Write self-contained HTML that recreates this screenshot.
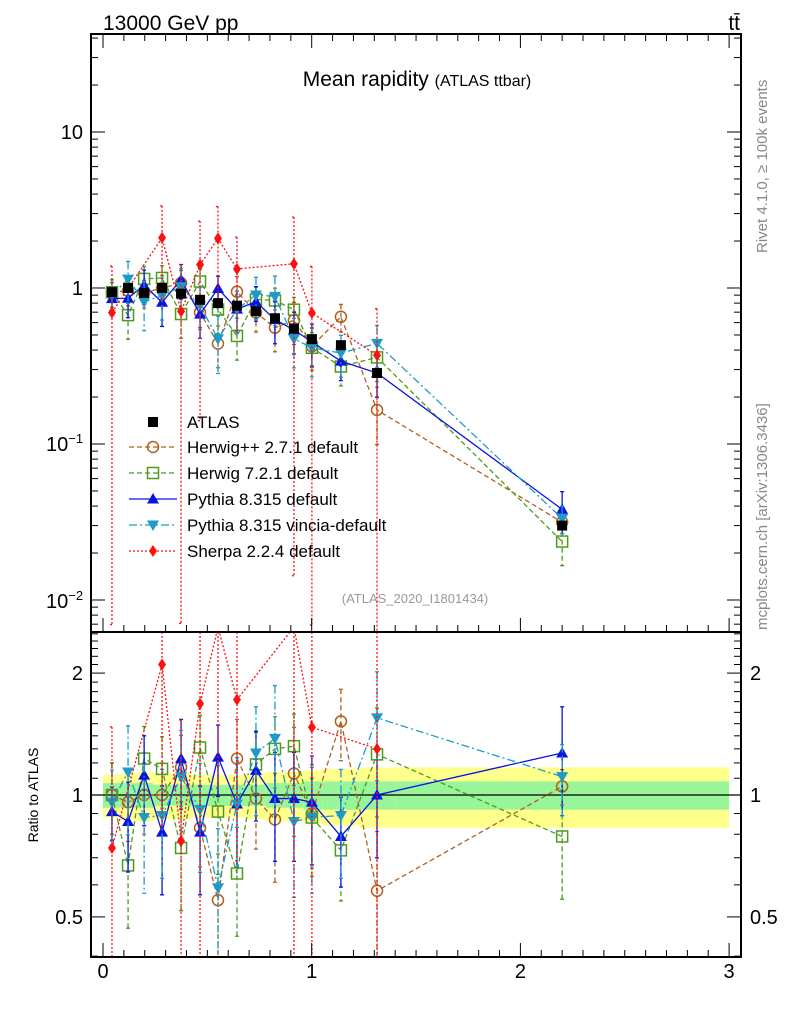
<!DOCTYPE html>
<html><head><meta charset="utf-8"><style>
html,body{margin:0;background:#fff;width:786px;height:1024px;overflow:hidden}
svg{display:block;font-family:"Liberation Sans",sans-serif;overflow:hidden}
</style></head><body>
<svg id="c" width="786" height="1024" xmlns="http://www.w3.org/2000/svg">
<text x="103" y="30" font-size="21">13000 GeV pp</text>
<text x="740" y="30" font-size="21" text-anchor="end">tt̄</text>
<text x="417" y="86" font-size="21" text-anchor="middle">Mean rapidity <tspan font-size="16">(ATLAS ttbar)</tspan></text>
<text transform="translate(767,253) rotate(-90)" font-size="15" fill="#888">Rivet 4.1.0, ≥ 100k events</text>
<text transform="translate(767,630) rotate(-90)" font-size="15" fill="#888">mcplots.cern.ch [arXiv:1306.3436]</text>
<text x="415" y="603" font-size="13" fill="#999" text-anchor="middle">(ATLAS_2020_I1801434)</text>
<text transform="translate(38,795) rotate(-90)" font-size="14" text-anchor="middle">Ratio to ATLAS</text>
<g id="bands"></g><g id="marks"></g><g id="axes"></g><g id="legend"></g>
</svg>
<script>
const xs=[0.043,0.12,0.197,0.283,0.374,0.465,0.551,0.642,0.733,0.824,0.915,1.001,1.14,1.313,2.2];
const atlas=[0.94,1.0,0.93,1.0,0.92,0.84,0.8,0.77,0.71,0.64,0.55,0.47,0.43,0.285,0.030];
const atlasStat=[0.07,0.07,0.07,0.06,0.06,0.06,0.06,0.06,0.06,0.07,0.07,0.08,0.08,0.08,0.08];
const atlasTot=[0.12,0.13,0.14,0.13,0.13,0.12,0.12,0.12,0.13,0.14,0.14,0.15,0.16,0.17,0.17];
const binEdges=[0,0.08,0.16,0.24,0.33,0.42,0.51,0.6,0.69,0.78,0.87,0.96,1.05,1.23,1.4,3.0];
const rHpp=[1.0,0.96,1.0,1.0,1.17,0.83,0.55,1.23,0.98,0.87,1.13,0.9,1.52,0.58,1.05];
const rH7=[1.0,0.67,1.23,1.16,0.74,1.31,0.91,0.64,1.19,1.30,1.32,0.88,0.73,1.26,0.79];
const rPy=[0.91,0.86,1.12,0.81,1.23,0.81,1.24,0.95,1.15,0.98,0.98,0.96,0.79,1.0,1.27];
const rVin=[0.96,1.14,0.88,0.89,1.11,0.92,0.59,0.95,1.27,1.38,0.86,0.88,0.89,1.55,1.11];
const rSh=[0.74,null,null,2.1,0.77,1.68,2.6,1.72,null,null,2.6,1.47,null,1.3,null];
const eHpp=[0.2,0.2,0.2,0.2,0.2,0.2,0.3,0.25,0.25,0.3,0.3,0.3,0.2,0.4,0.1];
const eH7=[0.2,0.3,0.2,0.2,0.3,0.2,0.3,0.3,0.2,0.2,0.2,0.25,0.25,0.3,0.3];
const ePy=[0.15,0.25,0.25,0.3,0.25,0.3,0.2,0.3,0.25,0.3,0.3,0.3,0.25,0.3,0.3];
const eVin=[0.2,0.3,0.35,0.3,0.3,0.3,0.4,0.3,0.3,0.35,0.35,0.35,0.3,0.3,0.2];
const eSh=[0.99,0,0,0.6,0.99,0.9,0.6,0.6,0,0,0.99,0.99,0,0.99,0];
const NS="http://www.w3.org/2000/svg";
const L=91,R=741,T=34,MB=632,RB=957;
const X=v=>103+208.7*v;
const Y=v=>288-156*Math.log10(v);
const YR=v=>795-405*Math.log10(v);
function el(tag,attrs,parent){const e=document.createElementNS(NS,tag);for(const k in attrs)e.setAttribute(k,attrs[k]);document.getElementById(parent).appendChild(e);return e;}
for(let i=0;i<binEdges.length-1;i++){
 const a=X(binEdges[i]),b=X(binEdges[i+1]);
 const y1=el('rect',{x:a,y:YR(1+atlasTot[i]),width:b-a,height:YR(1-atlasTot[i])-YR(1+atlasTot[i]),fill:'#ffff8c'},'bands');
 
 
 const y2=el('rect',{x:a,y:YR(1+atlasStat[i]),width:b-a,height:YR(1-atlasStat[i])-YR(1+atlasStat[i]),fill:'#99f599'},'bands');
 
 
}
const rl=el('line',{x1:L,x2:R,y1:YR(1),y2:YR(1),stroke:'#000','stroke-width':1.2},'bands');


const defs=el('defs',{},'marks');
const c1=document.createElementNS(NS,'clipPath');c1.id='cm';defs.appendChild(c1);
const r1=document.createElementNS(NS,'rect');r1.setAttribute('x',L);r1.setAttribute('y',T);r1.setAttribute('width',R-L);r1.setAttribute('height',MB-T);c1.appendChild(r1);
const c2=document.createElementNS(NS,'clipPath');c2.id='cr';defs.appendChild(c2);
const r2=document.createElementNS(NS,'rect');r2.setAttribute('x',L);r2.setAttribute('y',MB);r2.setAttribute('width',R-L);r2.setAttribute('height',RB-MB);c2.appendChild(r2);
const gm=el('g',{'clip-path':'url(#cm)',id:'gm'},'marks');
const gr=el('g',{'clip-path':'url(#cr)',id:'gr'},'marks');
function marker(g,type,x,y,col,name){
 let m;
 if(type==='sq')m=el('rect',{x:x-5,y:y-5,width:10,height:10,fill:'#000'},g);
 else if(type==='osq')m=el('rect',{x:x-5.5,y:y-5.5,width:11,height:11,fill:'none',stroke:col,'stroke-width':1.5},g);
 else if(type==='oc')m=el('circle',{cx:x,cy:y,r:5.5,fill:'none',stroke:col,'stroke-width':1.5},g);
 else if(type==='up')m=el('path',{d:`M${x} ${y-6}L${x+6} ${y+4.5}L${x-6} ${y+4.5}Z`,fill:col},g);
 else if(type==='dn')m=el('path',{d:`M${x} ${y+6}L${x+6} ${y-4.5}L${x-6} ${y-4.5}Z`,fill:col},g);
 else m=el('path',{d:`M${x} ${y-6}L${x+4} ${y}L${x} ${y+6}L${x-4} ${y}Z`,fill:col},g);
 
 
}
const series=[
 {r:rHpp,e:eHpp,col:'#b0601e',dash:'5,3',m:'oc',n:'herwigpp'},
 {r:rH7,e:eH7,col:'#4d9a1e',dash:'5,3',m:'osq',n:'herwig7'},
 {r:rPy,e:ePy,col:'#0a14e0',dash:'',m:'up',n:'pythia'},
 {r:rVin,e:eVin,col:'#1e9ac8',dash:'8,3,2,3',m:'dn',n:'vincia'},
 {r:rSh,e:eSh,col:'#ff1010',dash:'2,2',m:'dia',n:'sherpa'}];
const clampY=(y,a,b)=>Math.min(Math.max(y,a),b);
series.forEach(s=>{
 ['gm','gr'].forEach(g=>{
  const main=g==='gm';
  const top=main?T:MB,bot=main?MB:RB;
  const pts=[];
  s.r.forEach((r,i)=>{
   if(r===null)return;
   const v=main?r*atlas[i]:r;
   const f=main?Y:YR;
   const x=X(xs[i]),y=f(v);
   pts.push([x,y]);
   const lo=Math.max(v*(1-s.e[i]),1e-4),hi=v*(1+s.e[i]);
   const yh=clampY(f(hi),top,bot),yl=clampY(f(lo),top,bot);
   const eb=el('path',{d:`M${x} ${yh}V${yl}M${x-2} ${yh}H${x+2}M${x-2} ${yl}H${x+2}`,stroke:s.col,'stroke-width':1.3,'stroke-dasharray':s.dash,fill:'none'},g);
   
   
  });
  const pl=el('polyline',{points:pts.map(p=>p.join(',')).join(' '),fill:'none',stroke:s.col,'stroke-width':1.3,'stroke-dasharray':s.dash},g);
  
  
  pts.forEach(p=>marker(g,s.m,p[0],p[1],s.col,s.n+'-point'));
 });
});
atlas.forEach((v,i)=>marker('gm','sq',X(xs[i]),Y(v),'#000','atlas-point'));
function line(x1,y1,x2,y2,w,name){const l=el('line',{x1,y1,x2,y2,stroke:'#000','stroke-width':w},'axes');}
function txt(x,y,s,anchor,name,size){const t=el('text',{x,y,'font-size':size||19,'text-anchor':anchor},'axes');t.textContent=s;return t;}
const fr=el('rect',{x:L,y:T,width:R-L,height:RB-T,fill:'none',stroke:'#000','stroke-width':2},'axes');

line(L,MB,R,MB,2,'panel-divider');
for(let k=0;k<=30;k++){const x=X(k/10);const len=k%10===0?14:7;
 line(x,RB,x,RB-len,1,'x-tick');line(x,T,x,T+len,1,'x-tick');line(x,MB,x,MB-len,1,'x-tick');}
['0','1','2','3'].forEach((s,i)=>txt(X(i),978,s,'middle','x-tick-label',20));
for(let d=-3;d<=1;d++)for(let m=1;m<10;m++){const v=m*Math.pow(10,d);const y=Y(v);if(y<T||y>MB)continue;const len=m===1?14:7;line(L,y,L+len,y,1,'y-tick');line(R,y,R-len,y,1,'y-tick');}
txt(83,139,'10','end','y-tick-label-10',20);
txt(83,295,'1','end','y-tick-label-1',20);
const t1=txt(46,451,'10','start','y-tick-label-0.1',20);const s1=document.createElementNS(NS,'tspan');s1.setAttribute('dy','-8');s1.setAttribute('font-size','13');s1.textContent='−1';t1.appendChild(s1);
const t2=txt(46,608,'10','start','y-tick-label-0.01',20);const s2=document.createElementNS(NS,'tspan');s2.setAttribute('dy','-8');s2.setAttribute('font-size','13');s2.textContent='−2';t2.appendChild(s2);
const rt=[0.4,0.5,0.6,0.7,0.8,0.9,1,1.1,1.2,1.3,1.4,1.5,1.6,1.7,1.8,1.9,2,2.1,2.2,2.3,2.4,2.5];
rt.forEach(v=>{const y=YR(v);if(y<MB||y>RB)return;const len=(v===0.5||v===1||v===2)?14:7;line(L,y,L+len,y,1,'ratio-tick');line(R,y,R-len,y,1,'ratio-tick');});
[['0.5',0.5],['1',1],['2',2]].forEach(([s,v])=>{txt(83,YR(v)+7,s,'end','ratio-tick-label',20);txt(750,YR(v)+7,s,'start','ratio-tick-label-right',20);});
const leg=[['ATLAS','#000','','sq'],['Herwig++ 2.7.1 default','#b0601e','5,3','oc'],['Herwig 7.2.1 default','#4d9a1e','5,3','osq'],['Pythia 8.315 default','#0a14e0','','up'],['Pythia 8.315 vincia-default','#1e9ac8','8,3,2,3','dn'],['Sherpa 2.2.4 default','#ff1010','2,2','dia']];
const ly=[422,447,473,499,525,551];
leg.forEach((l,i)=>{
 if(i>0){const ln=el('line',{x1:129,x2:177,y1:ly[i],y2:ly[i],stroke:l[1],'stroke-width':1.3,'stroke-dasharray':l[2]},'legend');}
 marker('legend',l[3],153,ly[i],l[1],'legend-marker');
 const t=el('text',{x:187,y:ly[i]+6,'font-size':17},'legend');t.textContent=l[0];
 
 
});
</script>
</body></html>
